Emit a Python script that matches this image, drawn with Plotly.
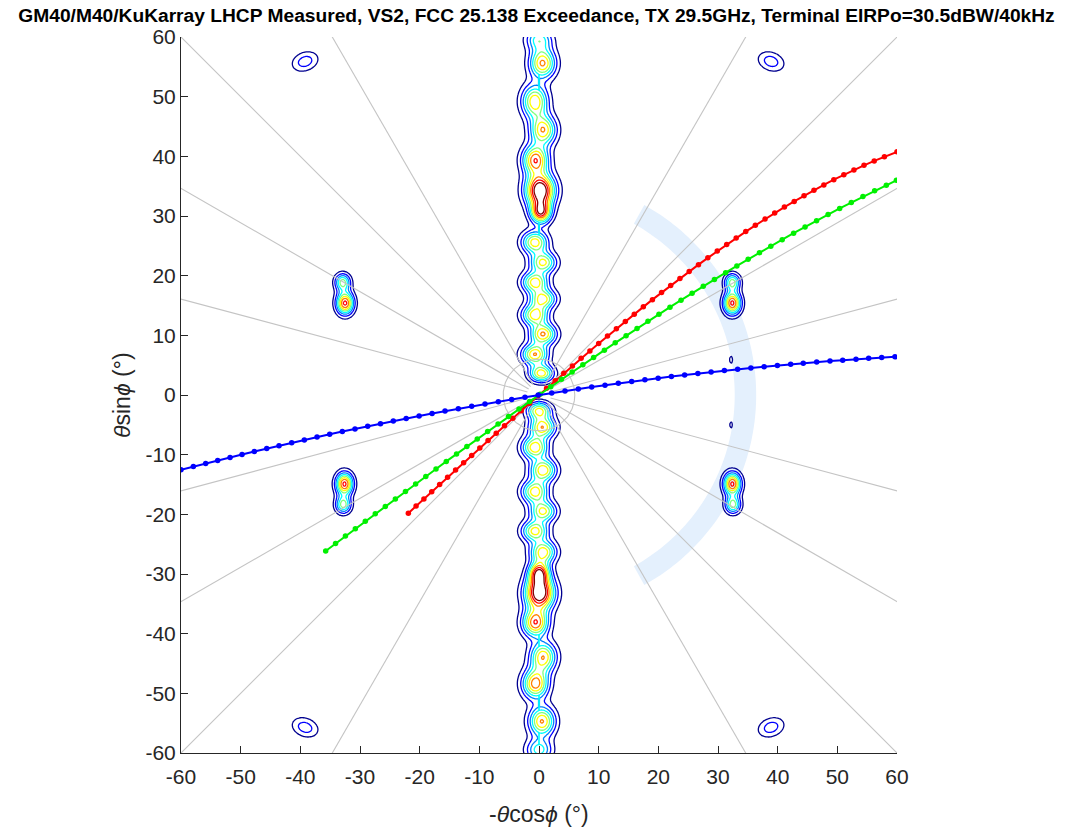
import numpy as np
import plotly.graph_objects as go

# ---------------- data ----------------
tick_vals = [-60, -50, -40, -30, -20, -10, 0, 10, 20, 30, 40, 50, 60]
tick_text = ['-60', '-50', '-40', '-30', '-20', '-10', '0', '10', '20', '30', '40', '50', '60']

# red curve markers
red_x = [-21.9, -20.6, -19.29, -17.98, -16.65, -15.32, -13.98, -12.63, -11.28, -9.92, -8.54, -7.17, -5.78,
         -4.38, -2.98, -1.57, -0.15, 1.27, 2.71, 4.15, 5.60, 7.06, 8.53, 10.0, 11.48, 12.97, 14.47, 15.97,
         17.49, 19.01, 20.54, 22.07, 23.62, 25.17, 26.73, 28.30, 29.88, 31.46, 33.05, 34.65, 36.26, 37.88,
         39.50, 41.13, 42.77, 44.42, 46.08, 47.74, 49.41, 51.09, 52.78, 54.47, 56.18, 57.89, 60.0]
red_y = [-19.80, -18.61, -17.42, -16.22, -15.01, -13.79, -12.57, -11.34, -10.12, -8.88, -7.63, -6.40, -5.15,
         -3.89, -2.64, -1.39, -0.13, 1.12, 2.38, 3.63, 4.88, 6.14, 7.39, 8.63, 9.87, 11.10, 12.33, 13.55,
         14.77, 15.98, 17.17, 18.36, 19.54, 20.70, 21.85, 22.99, 24.12, 25.22, 26.31, 27.39, 28.44, 29.48,
         30.49, 31.49, 32.45, 33.40, 34.32, 35.21, 36.08, 36.91, 37.72, 38.49, 39.23, 39.94, 40.75]

# green curve markers
green_x = [-35.75, -34.10, -32.44, -30.78, -29.11, -27.44, -25.76, -24.07, -22.38, -20.68, -18.97, -17.26,
           -15.54, -13.82, -12.09, -10.35, -8.61, -6.86, -5.11, -3.35, -1.58, 0.19, 1.97, 3.76, 5.55, 7.35,
           9.15, 10.96, 12.78, 14.60, 16.43, 18.26, 20.10, 21.95, 23.80, 25.66, 27.53, 29.40, 31.28, 33.16,
           35.05, 36.95, 38.85, 40.76, 42.67, 44.59, 46.52, 48.45, 50.39, 52.34, 54.29, 56.25, 58.21, 59.9]
green_y = [-26.14, -24.90, -23.65, -22.41, -21.16, -19.92, -18.67, -17.41, -16.16, -14.90, -13.64, -12.39,
           -11.13, -9.88, -8.62, -7.36, -6.11, -4.85, -3.61, -2.36, -1.11, 0.13, 1.37, 2.62, 3.85, 5.08,
           6.30, 7.52, 8.74, 9.95, 11.15, 12.34, 13.53, 14.72, 15.89, 17.06, 18.22, 19.36, 20.50, 21.63,
           22.75, 23.86, 24.95, 26.04, 27.11, 28.17, 29.21, 30.24, 31.26, 32.26, 33.25, 34.22, 35.17, 35.98]

# blue curve markers
blue_x = [-60.0, -57.93, -55.86, -53.85, -51.78, -49.77, -47.71, -45.63, -43.57, -41.45, -39.33, -37.20,
          -35.08, -32.96, -30.84, -28.71, -26.57, -24.42, -22.26, -20.09, -17.92, -15.75, -13.52, -11.28,
          -9.05, -6.82, -4.58, -2.35, -0.12, 2.13, 4.36, 6.59, 8.83, 11.06, 13.29, 15.53, 17.75, 19.97,
          22.19, 24.41, 26.63, 28.85, 31.07, 33.29, 35.51, 37.73, 39.95, 42.18, 44.29, 46.54, 48.77, 50.90,
          53.13, 55.25, 57.43, 59.66]
blue_y = [-12.54, -12.00, -11.48, -10.97, -10.46, -9.97, -9.47, -8.98, -8.50, -8.01, -7.53, -7.05,
          -6.59, -6.13, -5.68, -5.24, -4.80, -4.37, -3.94, -3.52, -3.10, -2.70, -2.29, -1.89,
          -1.50, -1.12, -0.74, -0.38, -0.02, 0.33, 0.67, 1.00, 1.33, 1.64, 1.95, 2.25, 2.54, 2.82,
          3.09, 3.35, 3.61, 3.85, 4.09, 4.32, 4.54, 4.75, 4.96, 5.15, 5.33, 5.51, 5.68, 5.84,
          6.00, 6.14, 6.27, 6.40]

# reference rays (deg) and circle
ray_angles = [15, 30, 45, 60, 120, 135, 150, 165, 195, 210, 225, 240, 300, 315, 330, 345]
ray_r0 = 2.0
ray_r1 = 90.0
circle_r = 6.0

# shaded arc band
band_r_in = 32.8
band_r_out = 36.4
band_ang_min = -61.0
band_ang_max = 61.0

# main-beam column lobes: y centre, x offset, level, vertical width, horizontal width
col_y = [59.6, 55.6, 49.2, 44.4, 39.4, 34.3, 30.6, 25.6, 22.2, 18.9, 16.1, 13.4, 10.2, 6.8, 3.6,
         -2.6, -5.4, -8.8, -12.6, -16.2, -19.5, -22.8, -26.3, -29.8, -33.2, -38.2, -43.9, -48.4, -54.7, -59.5]
col_x = [0.0, 0.6, -0.7, 0.7, -0.6, 0.2, 0.3, -0.7, 0.7, -0.7, 0.7, -0.7, 0.7, -0.7, 0.4,
         0.0, 0.6, -0.7, 0.7, -0.7, 0.7, -0.7, 0.7, 0.0, 0.1, -0.6, 0.7, -0.6, 0.5, 0.0]
col_amp = [4.5, 7.2, 6.9, 6.9, 7.8, 10.6, 8.0, 6.6, 6.2, 6.6, 6.2, 6.6, 7.0, 7.0, 6.6,
           6.2, 6.8, 6.8, 6.8, 6.6, 6.2, 6.4, 6.6, 8.0, 10.6, 7.8, 6.9, 7.6, 7.1, 4.5]
col_sy = [1.3, 1.7, 1.9, 1.7, 1.7, 1.9, 1.3, 1.3, 1.2, 1.2, 1.1, 1.2, 1.2, 1.2, 1.0,
          1.0, 1.2, 1.3, 1.3, 1.3, 1.2, 1.2, 1.3, 1.3, 1.9, 1.6, 1.7, 1.7, 1.7, 1.3]
col_sx = [1.5, 1.5, 1.5, 1.5, 1.5, 1.7, 1.2, 1.5, 1.5, 1.5, 1.5, 1.5, 1.5, 1.5, 1.4,
          1.4, 1.5, 1.5, 1.5, 1.5, 1.5, 1.5, 1.5, 1.2, 1.7, 1.5, 1.5, 1.5, 1.5, 1.5]

# side / grating lobes: x, y, level, sx, sy, tilt(deg)
lobe_x = [-32.5, -32.9, 32.4, 32.4, -32.6, -32.8, 32.4, 32.5, -39.2, 38.9, -39.2, 38.9, 32.2, 32.2]
lobe_y = [15.4, 18.9, 15.4, 18.9, -14.9, -18.4, -14.9, -18.4, 55.9, 55.9, -55.7, -55.7, 5.9, -5.0]
lobe_amp = [8.3, 5.5, 8.3, 5.5, 8.3, 5.5, 8.3, 5.5, 2.6, 2.6, 2.6, 2.6, 1.3, 1.3]
lobe_sx = [1.0, 0.9, 1.0, 0.9, 1.0, 0.9, 1.0, 0.9, 1.6, 1.6, 1.6, 1.6, 0.35, 0.3]
lobe_sy = [1.3, 1.0, 1.3, 1.0, 1.3, 1.0, 1.3, 1.0, 1.1, 1.1, 1.1, 1.1, 0.8, 0.7]
lobe_tilt = [0, 0, 0, 0, 0, 0, 0, 0, 20, -20, -20, 20, 0, 0]

ridge_level = 4.3
ridge_width = 0.08
ridge_gap = (-1.2, 2.6)

contour_levels = (1, 9, 1)

title_text = ('<b>GM40/M40/KuKarray LHCP Measured, VS2, FCC 25.138 Exceedance, TX 29.5GHz, '
              'Terminal EIRPo=30.5dBW/40kHz</b>')
x_title = '-<i>θ</i>cos<i>ϕ</i> (°)'
y_title = '<i>θ</i>sin<i>ϕ</i> (°)'

# ---------------- field grid ----------------
gx = np.unique(np.round(np.concatenate([
    np.arange(-60.5, -0.5, 0.25), np.arange(-0.5, 0.5, 0.04), np.arange(0.5, 60.75, 0.25)]), 3))
gy = np.round(np.arange(-60.5, 60.75, 0.25), 3)
X, Y = np.meshgrid(gx, gy)
Z = np.zeros_like(X)
for y0, x0, a, sy, sx in zip(col_y, col_x, col_amp, col_sy, col_sx):
    Z += a * np.exp(-((X - x0) ** 2 / (2 * sx ** 2) + (Y - y0) ** 2 / (2 * sy ** 2)))
for x0, y0, a, sx, sy, t in zip(lobe_x, lobe_y, lobe_amp, lobe_sx, lobe_sy, lobe_tilt):
    th = np.deg2rad(t)
    u = (X - x0) * np.cos(th) + (Y - y0) * np.sin(th)
    v = -(X - x0) * np.sin(th) + (Y - y0) * np.cos(th)
    Z += a * np.exp(-(u ** 2 / (2 * sx ** 2) + v ** 2 / (2 * sy ** 2)))
ridge = ridge_level * np.exp(-X ** 2 / (2 * ridge_width ** 2))
ridge[(Y > ridge_gap[0]) & (Y < ridge_gap[1])] = 0
Z = np.maximum(Z, ridge)
Z = np.round(Z, 2)

jet = [[0, 'rgb(0,0,143)'], [0.125, 'rgb(0,0,255)'], [0.375, 'rgb(0,255,255)'],
       [0.625, 'rgb(255,255,0)'], [0.875, 'rgb(255,0,0)'], [1, 'rgb(128,0,0)']]

fig = go.Figure()

# band as a shape below all traces (contours included)
ang = np.deg2rad(np.linspace(band_ang_min, band_ang_max, 121))
pts = [(band_r_out * np.cos(a), band_r_out * np.sin(a)) for a in ang] + \
      [(band_r_in * np.cos(a), band_r_in * np.sin(a)) for a in ang[::-1]]
band_path = 'M ' + ' L '.join(f'{px:.3f},{py:.3f}' for px, py in pts) + ' Z'
fig.add_shape(type='path', path=band_path, xref='x', yref='y', layer='below',
              fillcolor='rgb(228,240,253)', line=dict(width=0))

# rays
rx, ry = [], []
for a in ray_angles:
    t = np.deg2rad(a)
    rx += [ray_r0 * np.cos(t), ray_r1 * np.cos(t), None]
    ry += [ray_r0 * np.sin(t), ray_r1 * np.sin(t), None]
fig.add_trace(go.Scatter(x=rx, y=ry, mode='lines', line=dict(color='rgb(196,196,196)', width=1.1),
                         hoverinfo='skip', showlegend=False))
ca = np.linspace(0, 2 * np.pi, 200)
fig.add_trace(go.Scatter(x=circle_r * np.cos(ca), y=circle_r * np.sin(ca), mode='lines',
                         line=dict(color='rgb(196,196,196)', width=1.1), hoverinfo='skip', showlegend=False))

# contours
fig.add_trace(go.Contour(x=gx, y=gy, z=Z, colorscale=jet, zmin=1, zmax=9, showscale=False,
                         contours=dict(coloring='lines', start=contour_levels[0], end=contour_levels[1],
                                       size=contour_levels[2]),
                         line=dict(width=1.3), hoverinfo='skip'))

# curves
for cx, cy, col in [(red_x, red_y, 'rgb(255,0,0)'), (green_x, green_y, 'rgb(0,240,0)'),
                    (blue_x, blue_y, 'rgb(0,0,255)')]:
    fig.add_trace(go.Scatter(x=cx, y=cy, mode='lines+markers', line=dict(color=col, width=2),
                             marker=dict(color=col, size=5.5), showlegend=False))

axis_common = dict(range=[-60, 60], tickvals=tick_vals, ticktext=tick_text, ticks='inside', ticklen=7,
                   tickwidth=1, tickcolor='#262626', showline=True, linecolor='#262626', linewidth=1,
                   showgrid=False, zeroline=False, mirror=False,
                   tickfont=dict(family='Liberation Sans, Arial', size=21, color='#262626'))

fig.update_layout(
    width=1073, height=829,
    margin=dict(l=181, r=176, t=37, b=76),
    paper_bgcolor='white', plot_bgcolor='white',
    title=dict(text=title_text, x=0.5, xanchor='center', y=0.9815, yanchor='middle',
               font=dict(family='Liberation Sans, Arial', size=19.2, color='black')),
    xaxis=dict(**axis_common, ticklabelstandoff=5),
    yaxis=dict(**axis_common),
    annotations=[
        dict(text=x_title, xref='paper', yref='paper', x=0.5, y=-0.0845, xanchor='center',
             yanchor='middle', showarrow=False,
             font=dict(family='Liberation Sans, Arial', size=23, color='#262626')),
        dict(text=y_title, xref='paper', yref='paper', x=-0.0824, y=0.5, xanchor='center',
             yanchor='middle', showarrow=False, textangle=-90,
             font=dict(family='Liberation Sans, Arial', size=23, color='#262626')),
    ],
)

# remove the page's default 8px body margin so the figure fills the window exactly
fig.write_html('out.html', config={'displayModeBar': False},
               post_script="document.body.style.margin='0px';")
